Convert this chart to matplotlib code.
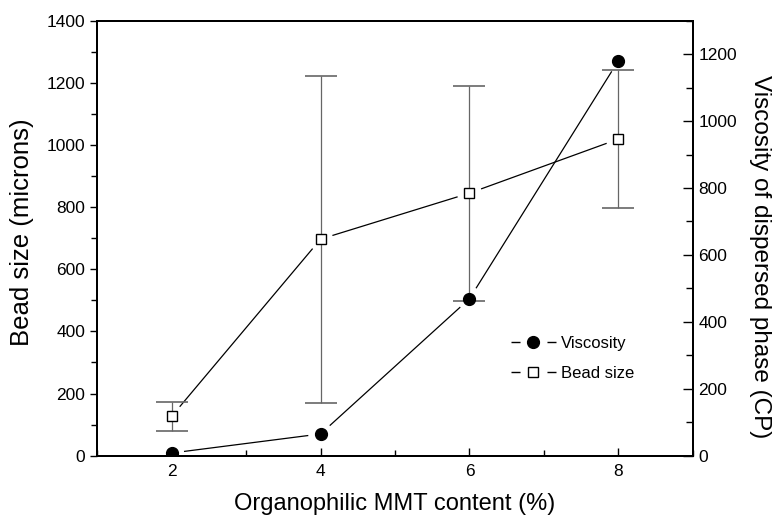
import numpy as np
import matplotlib
matplotlib.use("Agg")
import matplotlib.pyplot as plt
from matplotlib.lines import Line2D
from matplotlib.ticker import MultipleLocator

plt.rcParams["font.family"] = ["Liberation Sans", "DejaVu Sans"]

# MMT content (%)
mmt_content = [2, 4, 6, 8]
# bead size (microns) with +/- error
bead_size = [127, 697, 845, 1019]
bead_err = [46, 526, 346, 222]
# viscosity of dispersed phase (CP)
viscosity = [8, 65, 469, 1180]

DPI = 100
GAP_PX = 13


def gapped_line(ax, x, y, gap=GAP_PX, **kw):
    # connect points with segments that stop short of each marker
    pts = ax.transData.transform(np.column_stack([x, y]))
    inv = ax.transData.inverted()
    for p0, p1 in zip(pts[:-1], pts[1:]):
        d = p1 - p0
        u = d / np.hypot(*d)
        a, b = inv.transform([p0 + gap * u, p1 - gap * u])
        ax.plot([a[0], b[0]], [a[1], b[1]], **kw)


fig = plt.figure(figsize=(7.74, 5.18), dpi=DPI)
ax = fig.add_axes([0.1257, 0.1203, 0.7693, 0.8397])
ax2 = ax.twinx()

ax.set_xlim(1, 9)
ax.set_ylim(0, 1400)
ax2.set_ylim(0, 1300)

ax.set_xticks(mmt_content)
ax.xaxis.set_minor_locator(MultipleLocator(1))
ax.yaxis.set_major_locator(MultipleLocator(200))
ax.yaxis.set_minor_locator(MultipleLocator(100))
ax2.set_yticks(np.arange(0, 1201, 200))
ax2.yaxis.set_minor_locator(MultipleLocator(100))

ax.tick_params(axis="x", which="both", direction="in", labelsize=12.5, pad=6)
ax.tick_params(axis="x", which="major", length=6, width=1)
ax.tick_params(axis="x", which="minor", length=4, width=1)
ax.tick_params(axis="y", which="both", direction="out", labelsize=12.5, width=1)
ax.tick_params(axis="y", which="major", length=5)
ax.tick_params(axis="y", which="minor", length=4)
ax.tick_params(top=False, which="both")
ax2.tick_params(axis="y", which="both", direction="in", labelsize=12.5, width=1, pad=4)
ax2.tick_params(axis="y", which="major", length=7)
ax2.tick_params(axis="y", which="minor", length=5)

for a in (ax, ax2):
    for s in a.spines.values():
        s.set_linewidth(1.4)

# bead size on the left axis
gapped_line(ax, mmt_content, bead_size, color="black", lw=0.9, zorder=2)
ax.errorbar(mmt_content, bead_size, yerr=bead_err, fmt="none",
            ecolor="#666666", elinewidth=0.9, capsize=11.5, capthick=1.2, zorder=3)
ax.plot(mmt_content, bead_size, ls="none", marker="s", ms=7.5,
        mfc="white", mec="black", mew=1, zorder=4)

# viscosity on the right axis
gapped_line(ax2, mmt_content, viscosity, color="black", lw=0.9, zorder=2)
ax2.plot(mmt_content, viscosity, ls="none", marker="o", ms=8.5,
         color="black", zorder=4)

ax.set_xlabel("Organophilic MMT content (%)", fontsize=17, va="center")
ax.xaxis.set_label_coords(0.5, -0.11)
ax.set_ylabel("Bead size (microns)", fontsize=18.5, va="center")
ax.yaxis.set_label_coords(-0.126, 0.514)
ax2.set_ylabel("Viscosity of dispersed phase (CP)", fontsize=17.5,
               rotation=270, va="center")
ax2.yaxis.set_label_coords(1.113, 0.457)

dash = (0, (6.5, 19.4, 6.5, 40))
handles = [
    Line2D([], [], color="black", lw=1, ls=dash, marker="o", ms=8.5),
    Line2D([], [], color="black", lw=1, ls=dash, marker="s", ms=7,
           mfc="white", mec="black", mew=1),
]
ax.legend(handles, ["Viscosity", "Bead size"], loc="upper left",
          bbox_to_anchor=(0.694, 0.276), frameon=False, fontsize=12,
          borderpad=0, borderaxespad=0, handlelength=2.7,
          handletextpad=0.3, labelspacing=0.9, numpoints=1)

fig.savefig("out.png", dpi=DPI)
